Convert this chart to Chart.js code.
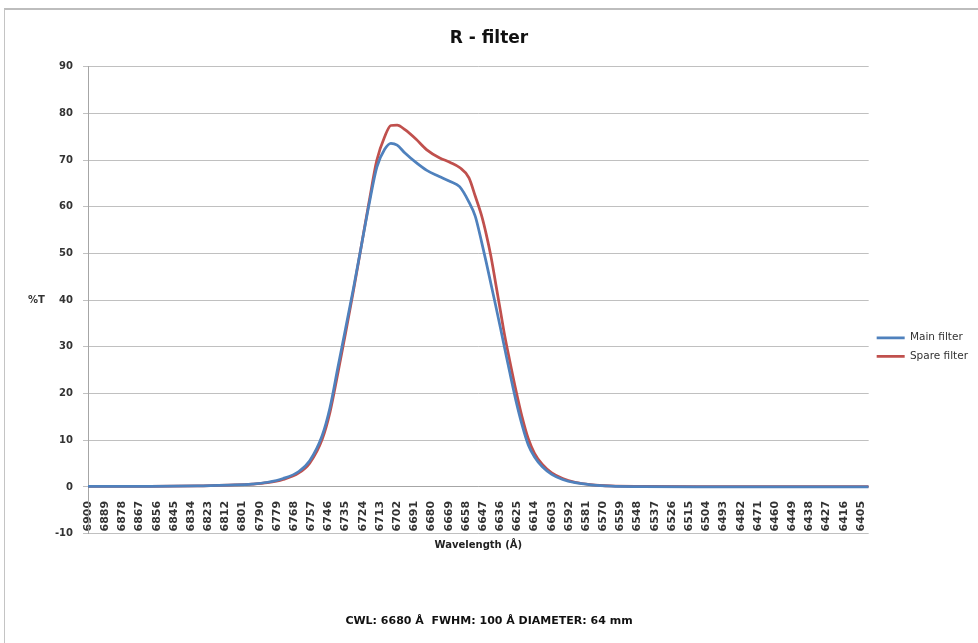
<!DOCTYPE html>
<html>
<head>
<meta charset="utf-8">
<script src="https://cdn.jsdelivr.net/npm/chart.js@4"></script>
<style>
  html, body { margin: 0; padding: 0; background: #fff; }
  #wrap { position: relative; width: 978px; height: 643px; overflow: hidden; }
  #frame { position: absolute; left: 4px; top: 8px; width: 990px; height: 700px;
           border-top: 2px solid #bdbdbd; border-left: 1px solid #c4c4c4; pointer-events: none; }
</style>
</head>
<body>
<div id="wrap">
  <canvas id="chart"></canvas>
  <div id="frame"></div>
</div>
<script>
// wavelength (Å) of each sample, descending like the x axis
const wavelengths = [6900, 6860, 6830, 6810, 6795, 6785, 6775, 6765, 6758, 6750, 6745, 6740, 6735, 6730,
  6725, 6720, 6715, 6710, 6706, 6702, 6697, 6690, 6683, 6675, 6668, 6662, 6656, 6652, 6648, 6645,
  6642, 6639, 6636, 6633, 6630, 6626, 6622, 6618, 6614, 6609, 6603, 6596, 6588, 6578, 6565, 6545,
  6500, 6450, 6400];

// %T
const mainFilter = [0.1, 0.1, 0.2, 0.4, 0.6, 1.0, 1.8, 3.3, 5.6, 11, 17, 25.5, 34, 42.5,
  51.5, 60.5, 68.5, 72.3, 73.6, 73.2, 71.5, 69.5, 67.8, 66.5, 65.4, 64.3, 61.0, 58.0, 52.6, 48.2,
  43.6, 39, 34.3, 29.5, 24.7, 18.6, 13.3, 9.0, 6.4, 4.3, 2.7, 1.6, 0.9, 0.45, 0.15, 0.05,
  0, 0, 0];

const spareFilter = [0.1, 0.1, 0.2, 0.4, 0.6, 0.9, 1.6, 3.0, 5.1, 10.2, 16, 24.3, 33, 42,
  51.5, 61, 70, 75, 77.4, 77.5, 76.5, 74.5, 72.2, 70.5, 69.5, 68.4, 66.2, 62.3, 58.2, 54.2,
  49.5, 43.8, 38, 32.2, 27.2, 20.8, 15, 10.3, 7.2, 4.8, 3.0, 1.8, 1.0, 0.5, 0.2, 0.1,
  0.05, 0.05, 0.05];

const tickLabels = [6900, 6889, 6878, 6867, 6856, 6845, 6834, 6823, 6812, 6801, 6790, 6779, 6768, 6757,
  6746, 6735, 6724, 6713, 6702, 6691, 6680, 6669, 6658, 6647, 6636, 6625, 6614, 6603, 6592, 6581,
  6570, 6559, 6548, 6537, 6526, 6515, 6504, 6493, 6482, 6471, 6460, 6449, 6438, 6427, 6416, 6405];

Chart.defaults.font.family = 'DejaVu Sans';
Chart.defaults.color = '#333';

// y axis label drawn horizontally, like the original
const yLabel = {
  id: 'yLabel',
  afterDraw(chart) {
    const ctx = chart.ctx;
    const area = chart.chartArea;
    ctx.save();
    ctx.font = 'bold 10px "DejaVu Sans"';
    ctx.fillStyle = '#333';
    ctx.textAlign = 'left';
    ctx.textBaseline = 'middle';
    ctx.fillText('%T', 28, (area.top + area.bottom) / 2);
    ctx.restore();
  }
};

const ctx = document.getElementById('chart');
new Chart(ctx, {
  type: 'line',
  data: {
    datasets: [{
      label: 'Main filter',
      data: wavelengths.map((w, i) => ({x: w, y: mainFilter[i]})),
      borderColor: '#4F81BD',
      backgroundColor: '#4F81BD',
      borderWidth: 2.75,
      pointRadius: 0,
      cubicInterpolationMode: 'monotone'
    },
    {
      label: 'Spare filter',
      data: wavelengths.map((w, i) => ({x: w, y: spareFilter[i]})),
      borderColor: '#C0504D',
      backgroundColor: '#C0504D',
      borderWidth: 2.75,
      pointRadius: 0,
      cubicInterpolationMode: 'monotone'
    }]
  },
  options: {
    responsive: true,
    maintainAspectRatio: false,
    animation: false,
    layout: {
      padding: 0
    },
    scales: {
      x: {
        type: 'linear',
        position: {y: 0},
        min: 6400,
        max: 6900,
        reverse: true,
        afterBuildTicks: (scale) => {
          scale.ticks = tickLabels.map(v => ({value: v}));
        },
        ticks: {
          autoSkip: false,
          minRotation: 90,
          maxRotation: 90,
          padding: 14,
          color: '#333',
          font: {size: 11, weight: 'bold'},
          callback: (v) => String(v)
        },
        grid: {display: true, drawOnChartArea: false, drawTicks: false},
        border: {display: true, color: '#a6a6a6', width: 1}
      },
      x2: {
        type: 'linear',
        position: 'bottom',
        ticks: {display: false},
        grid: {display: false, drawTicks: false},
        border: {display: false},
        title: {
          display: true,
          text: 'Wavelength (Å)',
          color: '#222',
          font: {size: 10, weight: 'bold'},
          padding: {top: 5.4, bottom: 63.8}
        }
      },
      y: {
        min: -10,
        max: 90,
        afterFit: (scale) => {
          scale.width = 88;
        },
        ticks: {
          stepSize: 10,
          padding: 10,
          color: '#333',
          font: {size: 10, weight: 'bold'}
        },
        grid: {color: '#c0c0c0', tickLength: 5},
        border: {color: '#a6a6a6'}
      }
    },
    plugins: {
      title: {
        display: true,
        text: 'R - filter',
        color: '#111',
        font: {size: 17, weight: 'bold'},
        padding: {top: 28.5, bottom: 17.8}
      },
      subtitle: {
        display: true,
        position: 'bottom',
        text: 'CWL: 6680 Å  FWHM: 100 Å DIAMETER: 64 mm',
        color: '#111',
        font: {size: 11, weight: 'bold'},
        padding: {top: 0, bottom: 15}
      },
      legend: {
        display: true,
        position: 'right',
        title: {display: true, text: '', font: {size: 10}, padding: {top: 0, bottom: 39}},
        labels: {
          usePointStyle: true,
          pointStyle: 'line',
          pointStyleWidth: 28,
          padding: 8,
          color: '#333',
          font: {size: 10.5}
        }
      },
      tooltip: {enabled: false}
    }
  },
  plugins: [yLabel]
});
</script>
</body>
</html>
